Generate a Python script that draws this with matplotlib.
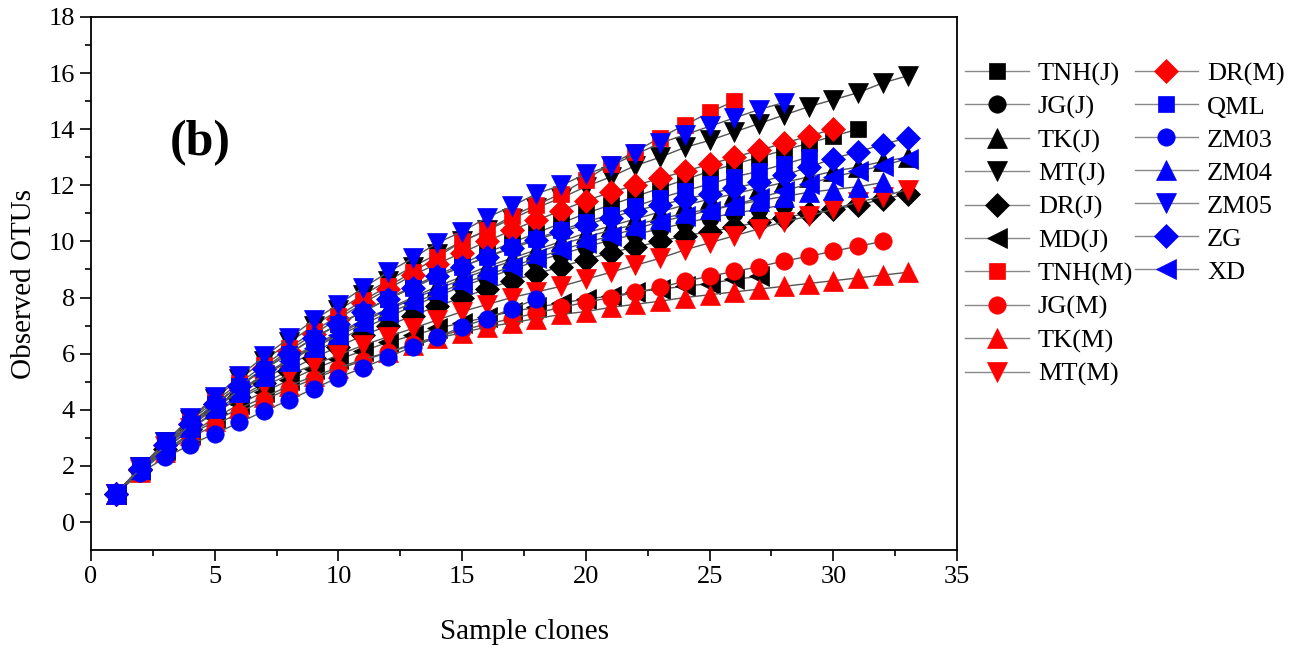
import numpy as np
import matplotlib
matplotlib.use("Agg")
import matplotlib.pyplot as plt
from matplotlib.lines import Line2D

plt.rcParams['font.family'] = ['Liberation Serif', 'DejaVu Serif']

# observed OTUs per number of sampled clones (x = 1, 2, 3, ...)
tnh_j = [1, 1.9, 2.75, 3.5, 4.2, 4.85, 5.45, 6.0, 6.55, 7.05, 7.5, 7.95, 8.4, 8.8, 9.2, 9.6,
         9.95, 10.3, 10.65, 11.0, 11.3, 11.6, 11.9, 12.2, 12.5, 12.75, 13.0, 13.25, 13.5, 13.75, 14.0]
jg_j = [1, 1.85, 2.6, 3.3, 3.95, 4.55, 5.1, 5.6, 6.05, 6.5, 6.9, 7.3, 7.7, 8.05, 8.4, 8.7,
        9.0, 9.3, 9.55, 9.8, 10.05, 10.25, 10.45, 10.65, 10.85, 11.0, 11.15, 11.3]
tk_j = [1, 1.9, 2.7, 3.45, 4.1, 4.7, 5.25, 5.8, 6.3, 6.75, 7.2, 7.6, 8.0, 8.4, 8.75, 9.1, 9.4,
        9.7, 10.0, 10.3, 10.55, 10.8, 11.05, 11.3, 11.5, 11.7, 11.9, 12.1, 12.3, 12.5, 12.65, 12.85, 13.0]
mt_j = [1, 1.95, 2.85, 3.65, 4.4, 5.1, 5.75, 6.4, 7.0, 7.55, 8.1, 8.6, 9.1, 9.55, 10.0, 10.4, 10.8,
        11.2, 11.55, 11.95, 12.3, 12.7, 13.0, 13.35, 13.6, 13.9, 14.2, 14.5, 14.8, 15.05, 15.3, 15.65, 15.9]
dr_j = [1, 1.85, 2.6, 3.3, 3.9, 4.45, 4.95, 5.4, 5.85, 6.25, 6.65, 7.0, 7.35, 7.7, 8.0, 8.3, 8.6,
        8.85, 9.1, 9.35, 9.6, 9.8, 10.0, 10.2, 10.35, 10.5, 10.7, 10.85, 11.0, 11.15, 11.3, 11.5, 11.7]
md_j = [1, 1.85, 2.55, 3.15, 3.7, 4.2, 4.65, 5.05, 5.45, 5.8, 6.1, 6.4, 6.65, 6.9, 7.1, 7.3, 7.5,
        7.65, 7.8, 7.95, 8.05, 8.2, 8.3, 8.4, 8.5, 8.65, 8.75]
tnh_m = [1, 1.95, 2.8, 3.6, 4.3, 4.95, 5.6, 6.2, 6.8, 7.35, 7.9, 8.4, 8.9, 9.45, 10.0, 10.4, 10.9,
         11.3, 11.7, 12.2, 12.75, 13.2, 13.7, 14.15, 14.6, 15.0]
jg_m = [1, 1.85, 2.5, 3.0, 3.45, 3.9, 4.35, 4.75, 5.1, 5.45, 5.75, 6.05, 6.35, 6.6, 6.85, 7.05,
        7.25, 7.45, 7.65, 7.83, 8.0, 8.18, 8.36, 8.58, 8.76, 8.93, 9.1, 9.3, 9.47, 9.65, 9.83, 10.0]
tk_m = [1, 1.8, 2.5, 3.1, 3.6, 4.05, 4.45, 4.85, 5.2, 5.5, 5.8, 6.05, 6.3, 6.55, 6.75, 6.95, 7.1,
        7.25, 7.4, 7.5, 7.65, 7.76, 7.87, 8.0, 8.1, 8.2, 8.3, 8.4, 8.5, 8.6, 8.7, 8.8, 8.9]
mt_m = [1, 1.9, 2.7, 3.35, 3.9, 4.4, 4.85, 5.25, 5.6, 5.95, 6.3, 6.6, 6.9, 7.2, 7.5, 7.75, 8.0,
        8.2, 8.4, 8.65, 8.9, 9.15, 9.4, 9.7, 9.95, 10.2, 10.45, 10.7, 10.9, 11.15, 11.4, 11.6, 11.85]
dr_m = [1, 1.9, 2.75, 3.5, 4.2, 4.85, 5.5, 6.1, 6.7, 7.25, 7.8, 8.3, 8.8, 9.2, 9.6, 10.0, 10.4,
        10.75, 11.1, 11.45, 11.75, 12.0, 12.25, 12.5, 12.75, 13.0, 13.25, 13.5, 13.75, 14.0]
qml = [1, 1.9, 2.75, 3.5, 4.2, 4.85, 5.45, 6.0, 6.55, 7.05, 7.5, 7.95, 8.35, 8.75, 9.1, 9.45, 9.8,
       10.1, 10.4, 10.7, 10.95, 11.25, 11.55, 11.8, 12.05, 12.3, 12.5, 12.75, 13.0]
zm03 = [1, 1.75, 2.3, 2.75, 3.15, 3.55, 3.95, 4.35, 4.75, 5.15, 5.5, 5.87, 6.25, 6.6, 6.95, 7.25,
        7.6, 7.95]
zm04 = [1, 1.9, 2.7, 3.4, 4.05, 4.65, 5.2, 5.75, 6.25, 6.7, 7.15, 7.55, 7.95, 8.3, 8.65, 9.0, 9.3,
        9.6, 9.9, 10.15, 10.4, 10.6, 10.8, 11.0, 11.15, 11.3, 11.45, 11.6, 11.75, 11.85, 11.95, 12.1]
zm05 = [1, 1.95, 2.85, 3.7, 4.45, 5.2, 5.9, 6.55, 7.2, 7.75, 8.35, 8.9, 9.4, 9.95, 10.35, 10.85,
        11.25, 11.7, 12.0, 12.4, 12.7, 13.1, 13.5, 13.8, 14.1, 14.4, 14.7, 14.95]
zg = [1, 1.9, 2.75, 3.5, 4.2, 4.85, 5.45, 6.0, 6.55, 7.05, 7.5, 7.95, 8.35, 8.75, 9.1, 9.45, 9.75,
      10.05, 10.35, 10.6, 10.85, 11.1, 11.3, 11.5, 11.7, 11.9, 12.1, 12.35, 12.65, 12.95, 13.2, 13.45, 13.7]
xd = [1, 1.9, 2.7, 3.45, 4.1, 4.7, 5.25, 5.75, 6.2, 6.65, 7.05, 7.45, 7.8, 8.15, 8.5, 8.8, 9.1,
      9.4, 9.7, 9.95, 10.2, 10.45, 10.7, 10.9, 11.1, 11.3, 11.55, 11.8, 12.05, 12.3, 12.5, 12.7, 12.95]

names = ['TNH(J)', 'JG(J)', 'TK(J)', 'MT(J)', 'DR(J)', 'MD(J)', 'TNH(M)', 'JG(M)', 'TK(M)', 'MT(M)',
         'DR(M)', 'QML', 'ZM03', 'ZM04', 'ZM05', 'ZG', 'XD']
series = [tnh_j, jg_j, tk_j, mt_j, dr_j, md_j, tnh_m, jg_m, tk_m, mt_m,
          dr_m, qml, zm03, zm04, zm05, zg, xd]
markers = ['s', 'o', '^', 'v', 'D', '<', 's', 'o', '^', 'v', 'D', 's', 'o', '^', 'v', 'D', '<']
colors = ['black'] * 6 + ['red'] * 5 + ['blue'] * 6
sizes = {'s': 12, 'o': 12.5, '^': 14, 'v': 14, 'D': 12, '<': 14}

fig = plt.figure(figsize=(12.94, 6.51), dpi=100)
ax = fig.add_axes([0.0703, 0.155, 0.6693, 0.819])

handles = []
for name, vals, m, c in zip(names, series, markers, colors):
    x = np.arange(1, len(vals) + 1)
    ln, = ax.plot(x, vals, color='#555555', lw=1.0, marker=m, ms=sizes[m],
                  mfc=c, mec=c, mew=0.5, label=name)
    handles.append(ln)

ax.set_xlim(0, 35)
ax.set_ylim(-1, 18)
ax.set_xticks(np.arange(0, 36, 5))
ax.set_xticks(np.arange(2.5, 35, 5), minor=True)
ax.set_yticks(np.arange(0, 19, 2))
ax.set_yticks(np.arange(1, 18, 2), minor=True)
ax.tick_params(which='major', direction='out', length=8, width=1.2, labelsize=19)
ax.tick_params(which='minor', direction='out', length=4, width=1.2)
for s in ['top', 'bottom', 'left', 'right']:
    ax.spines[s].set_linewidth(1.3)

ax.set_xlabel('Sample clones', fontsize=21, labelpad=22)
ax.set_ylabel('Observed OTUs', fontsize=21, labelpad=8)
ax.text(4.4, 13.5, '(b)', fontsize=36, fontweight='bold', ha='center', va='center')

# pad with blanks so the first column holds 10 entries like the original
blank = Line2D([], [], linestyle='none', marker=None)
leg_h = handles + [blank] * 3
leg_l = names + [''] * 3
leg = fig.legend(leg_h, leg_l, ncol=2, loc='upper left', bbox_to_anchor=(0.746, 0.905),
                 frameon=False, fontsize=19, handlelength=2.4, handletextpad=0.35,
                 labelspacing=0.36, columnspacing=0.05, borderaxespad=0, borderpad=0)
for h in leg.legend_handles:
    h.set_color('#888888')

plt.savefig('out.png', dpi=100)
plt.close()
